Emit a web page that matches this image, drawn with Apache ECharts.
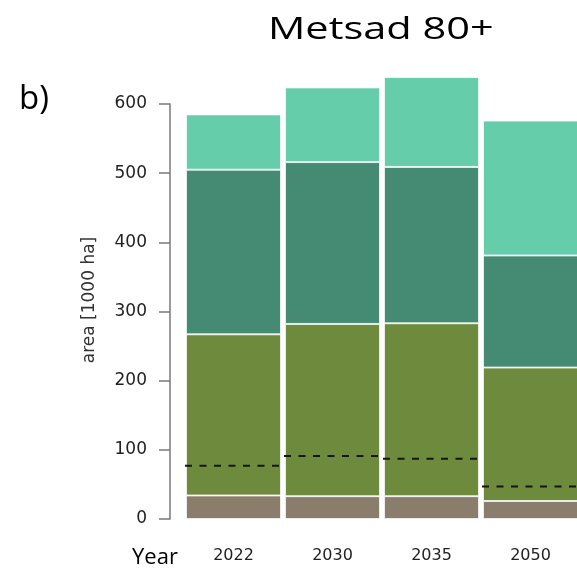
<!DOCTYPE html>
<html>
<head>
<meta charset="utf-8">
<title>Metsad 80+</title>
<script src="https://cdn.jsdelivr.net/npm/echarts@6/dist/echarts.min.js"></script>
<style>
  html, body { margin: 0; padding: 0; background: #ffffff; }
  #chart { width: 577px; height: 570px; }
</style>
</head>
<body>
<div id="chart"></div>
<script>
// Forest area (1000 ha) by year, stacked from bottom to top
const years = ['2022', '2030', '2035', '2050'];
const classBrown = [34, 33, 33, 26];
const classOlive = [233, 249, 250, 193];
const classDark = [238, 234, 226, 162];
const classLight = [80, 108, 130, 195];
// reference level drawn as a dashed line across each bar
const dashedLevel = [77, 91, 87, 47];
const yTicks = { min: 0, max: 600, step: 100 };

const colors = {
  brown: '#8b7d6b',
  olive: '#6e8b3d',
  dark: '#458b74',
  light: '#66cdaa'
};

const chart = echarts.init(document.getElementById('chart'), null, { renderer: 'canvas' });

const GRID_TOP = 104;
const GRID_BOTTOM = 51;
const BAR_WIDTH = 95;

function barSeries(name, values, color) {
  return {
    name: name,
    type: 'bar',
    stack: 'area',
    xAxisIndex: 1,
    yAxisIndex: 1,
    data: values,
    barWidth: BAR_WIDTH,
    clip: false,
    itemStyle: {
      color: color,
      borderColor: 'rgba(255,255,255,0.7)',
      borderWidth: 1
    },
    emphasis: { disabled: true }
  };
}

const option = {
  animation: false,
  backgroundColor: '#ffffff',
  graphic: [
    {
      type: 'text',
      x: 268,
      y: 30,
      scaleX: 1.34,
      style: {
        text: 'Metsad 80+',
        font: '31px "Open Sans"',
        fill: '#000000',
        align: 'left',
        verticalAlign: 'middle'
      }
    },
    {
      type: 'text',
      x: 19,
      y: 100,
      style: {
        text: 'b)',
        font: '33px "Open Sans"',
        fill: '#000000',
        align: 'left',
        verticalAlign: 'middle'
      }
    },
    {
      type: 'text',
      x: 132,
      y: 558,
      style: {
        text: 'Year',
        font: '22px "Open Sans"',
        fill: '#000000',
        align: 'left',
        verticalAlign: 'middle'
      }
    },
    {
      // y-axis title, reading bottom to top
      type: 'text',
      x: 90,
      y: 300,
      rotation: Math.PI / 2,
      style: {
        text: 'area [1000 ha]',
        font: '17px "DejaVu Sans"',
        fill: '#333333',
        align: 'center',
        verticalAlign: 'middle'
      }
    }
  ],
  grid: [
    { left: 170, top: GRID_TOP, bottom: GRID_BOTTOM, width: 10, outerBoundsMode: 'none' },
    { left: 184, top: GRID_TOP, bottom: GRID_BOTTOM, width: 396, outerBoundsMode: 'none' }
  ],
  xAxis: [
    { type: 'value', gridIndex: 0, show: false },
    {
      type: 'category',
      gridIndex: 1,
      data: years,
      axisLine: { show: false },
      axisTick: { show: false },
      axisLabel: {
        margin: 29,
        color: '#222222',
        fontFamily: 'DejaVu Sans',
        fontSize: 16
      }
    }
  ],
  yAxis: [
    {
      type: 'value',
      gridIndex: 0,
      min: yTicks.min,
      max: yTicks.max,
      interval: yTicks.step,
      axisLine: { show: true, lineStyle: { color: '#7a7a7a', width: 1.5 } },
      axisTick: { show: true, length: 11, lineStyle: { color: '#7a7a7a', width: 1.5 } },
      axisLabel: {
        margin: 23,
        color: '#222222',
        fontFamily: 'DejaVu Sans',
        fontSize: 17
      },
      splitLine: { show: false }
    },
    {
      type: 'value',
      gridIndex: 1,
      min: yTicks.min,
      max: yTicks.max,
      interval: yTicks.step,
      show: false,
      splitLine: { show: false }
    }
  ],
  series: [
    barSeries('Class A', classBrown, colors.brown),
    barSeries('Class B', classOlive, colors.olive),
    barSeries('Class C', classDark, colors.dark),
    barSeries('Class D', classLight, colors.light),
    {
      name: 'Level',
      type: 'custom',
      xAxisIndex: 1,
      yAxisIndex: 1,
      clip: false,
      z: 10,
      data: dashedLevel.map((v, i) => [i, v]),
      encode: { x: 0, y: 1 },
      renderItem: function (params, api) {
        const p = api.coord([api.value(0), api.value(1)]);
        const half = BAR_WIDTH / 2;
        return {
          type: 'line',
          shape: { x1: p[0] - half - 1, y1: p[1], x2: p[0] + half, y2: p[1] },
          style: {
            stroke: '#151515',
            lineWidth: 2,
            lineDash: [7, 7.5]
          }
        };
      }
    }
  ]
};

chart.setOption(option);
</script>
</body>
</html>
